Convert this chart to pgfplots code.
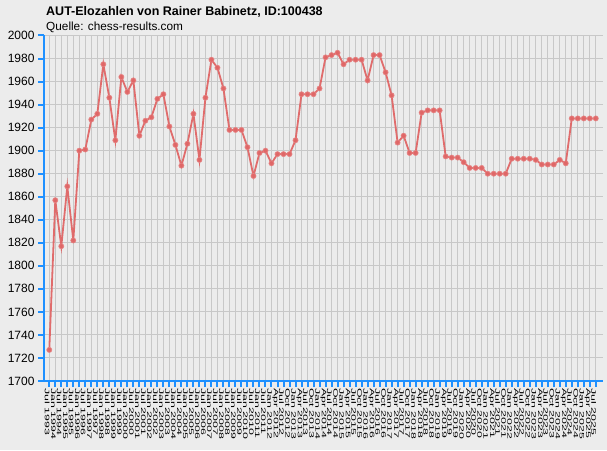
\documentclass[border=0pt]{standalone}
\usepackage{fontspec}
\setmainfont{Liberation Sans}
\newfontfamily\ticklab[FakeStretch=1.9]{Liberation Sans}
\usepackage{pgfplots}
\pgfplotsset{compat=1.18}
\definecolor{bggray}{RGB}{236,236,236}
\definecolor{gridgray}{RGB}{200,200,200}
\definecolor{axisblue}{RGB}{30,144,255}
\definecolor{elored}{RGB}{224,102,102}

\begin{document}
\begin{tikzpicture}[x=1pt,y=1pt]
\fill[bggray] (0,0) rectangle (607,450);
\node[anchor=base west, inner sep=0pt, font=\bfseries\fontsize{12.5}{14}\selectfont]
  at (46,434) {AUT-Elozahlen von Rainer Babinetz, ID:100438};
\node[anchor=base west, inner sep=0pt, font=\fontsize{11.8}{13}\selectfont]
  at (46,419.5) {Quelle: chess-results.com};
\begin{axis}[
    at={(44pt,69pt)}, anchor=south west,
    scale only axis,
    width=559pt, height=345.5pt,
    xmin=-0.88, xmax=92.2,
    ymin=1700, ymax=2000,
    axis x line*=bottom, axis y line*=left,
    axis line style={axisblue, line width=2pt, -},
    ytick={1700,1720,...,2000},
    xtick={0,...,91},
    xticklabels={Jul 1993, Jan 1994, Jul 1994, Jan 1995, Jul 1995, Jan 1996, Jul 1996,
      Jan 1997, Jul 1997, Jan 1998, Jul 1998, Jan 1999, Jul 1999, Jan 2000, Jul 2000,
      Jan 2001, Jul 2001, Jan 2002, Jul 2002, Jan 2003, Jul 2003, Jan 2004, Jul 2004,
      Jan 2005, Jul 2005, Jan 2006, Jul 2006, Jan 2007, Jul 2007, Jan 2008, Jul 2008,
      Jan 2009, Jul 2009, Jan 2010, Jul 2010, Jan 2011, Jul 2011, Jan 2012,
      Apr 2012, Jul 2012, Oct 2012, Jan 2013, Apr 2013, Jul 2013, Oct 2013,
      Jan 2014, Apr 2014, Jul 2014, Oct 2014, Jan 2015, Apr 2015, Jul 2015, Oct 2015,
      Jan 2016, Apr 2016, Jul 2016, Oct 2016, Jan 2017, Apr 2017, Jul 2017, Oct 2017,
      Jan 2018, Apr 2018, Jul 2018, Oct 2018, Jan 2019, Apr 2019, Jul 2019, Oct 2019,
      Jan 2020, Apr 2020, Jul 2020, Oct 2020, Jan 2021, Apr 2021, Jul 2021, Oct 2021,
      Jan 2022, Apr 2022, Jul 2022, Oct 2022, Jan 2023, Apr 2023, Jul 2023, Oct 2023,
      Jan 2024, Apr 2024, Jul 2024, Oct 2024, Jan 2025, Apr 2025, Jul 2025},
    xticklabel style={rotate=-90, anchor=west, font=\ticklab\fontsize{6.5}{7}\selectfont,
      inner sep=1pt, yshift=-2pt},
    yticklabel style={font=\fontsize{12}{14}\selectfont},
    /pgf/number format/assume math mode=true,
    /pgf/number format/1000 sep={},
    tick align=outside,
    major tick length=6pt,
    tick style={axisblue, line width=2pt},
    grid=major,
    major grid style={gridgray, line width=1pt},
    axis background/.style={fill=bggray},
    clip=false,
]
\addplot[elored, line width=1.8pt, opacity=0.95, mark=*, mark size=2.6pt,
  mark options={fill=elored, draw=elored!80!white, line width=0.6pt}] coordinates {
(0,1727) (1,1857) (2,1817) (3,1869) (4,1822) (5,1900) (6,1901) (7,1927)
(8,1932) (9,1975) (10,1946) (11,1909) (12,1964) (13,1951) (14,1961) (15,1913)
(16,1926) (17,1929) (18,1945) (19,1949) (20,1921) (21,1905) (22,1887) (23,1906)
(24,1932) (25,1892) (26,1946) (27,1979) (28,1972) (29,1954) (30,1918) (31,1918)
(32,1918) (33,1903) (34,1878) (35,1898) (36,1900) (37,1889) (38,1897) (39,1897)
(40,1897) (41,1909) (42,1949) (43,1949) (44,1949) (45,1954) (46,1981) (47,1983)
(48,1985) (49,1975) (50,1979) (51,1979) (52,1979) (53,1961) (54,1983) (55,1983)
(56,1968) (57,1948) (58,1907) (59,1913) (60,1898) (61,1898) (62,1933) (63,1935)
(64,1935) (65,1935) (66,1895) (67,1894) (68,1894) (69,1890) (70,1885) (71,1885)
(72,1885) (73,1880) (74,1880) (75,1880) (76,1880) (77,1893) (78,1893) (79,1893)
(80,1893) (81,1892) (82,1888) (83,1888) (84,1888) (85,1892) (86,1889) (87,1928)
(88,1928) (89,1928) (90,1928) (91,1928)
};
\end{axis}
\pgfresetboundingbox
\useasboundingbox (0,0) rectangle (607,450);
\end{tikzpicture}
\end{document}
